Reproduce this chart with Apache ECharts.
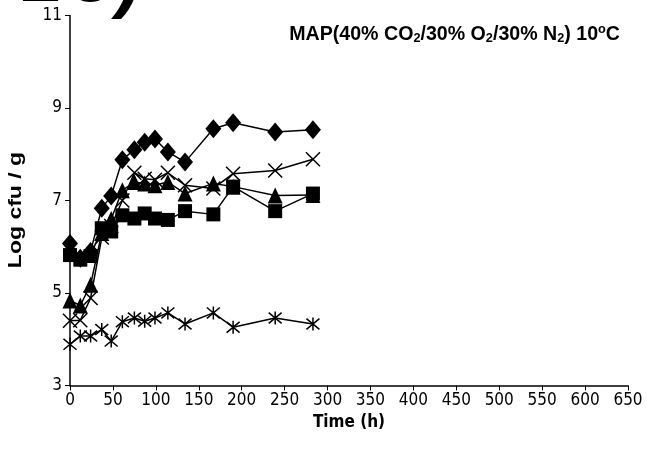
<!DOCTYPE html>
<html><head><meta charset="utf-8">
<script src="https://cdn.jsdelivr.net/npm/echarts@6/dist/echarts.min.js"></script>
<style>html,body{margin:0;padding:0;background:#fff}#c{width:652px;height:452px}</style>
</head><body><div id="c"></div>
<script>
var times = [0, 12, 24, 37, 48, 61, 75, 87, 99, 114, 134, 167, 190, 239, 283];
var diamondVals = [6.07, 5.75, 5.9, 6.83, 7.1, 7.88, 8.1, 8.26, 8.33, 8.05, 7.83, 8.55, 8.68, 8.48, 8.53];
var squareVals = [5.82, 5.72, 5.8, 6.4, 6.33, 6.68, 6.61, 6.72, 6.61, 6.58, 6.77, 6.7, 7.3, 6.77, 7.15];
var triangleVals = [4.84, 4.73, 5.18, 6.3, 6.6, 7.22, 7.4, 7.37, 7.33, 7.4, 7.15, 7.37, 7.3, 7.11, 7.12];
var crossVals = [4.4, 4.41, 4.89, 6.2, 6.45, 7.0, 7.6, 7.47, 7.45, 7.6, 7.33, 7.26, 7.58, 7.65, 7.89];
var starVals = [3.89, 4.07, 4.07, 4.21, 3.96, 4.38, 4.46, 4.39, 4.46, 4.57, 4.33, 4.57, 4.26, 4.46, 4.33];
var xTicks = [0, 50, 100, 150, 200, 250, 300, 350, 400, 450, 500, 550, 600, 650];
var yTicks = [3, 5, 7, 9, 11];

function pairs(v){ return times.map(function(t,i){ return [t, v[i]]; }); }
var FONT = 'Liberation Sans, Arial, sans-serif';
var NARROW = '"Liberation Sans Narrow", "Arial Narrow", "DejaVu Sans Condensed", "Liberation Sans", sans-serif';
var chart = echarts.init(document.getElementById('c'), null, {renderer:'canvas'});
function ser(name, vals, symbol, size, filled){
  return {
    name: name, type: 'line', data: pairs(vals), symbol: symbol, symbolSize: size,
    lineStyle: {color:'#000', width:1.5},
    itemStyle: filled ? {color:'#000', borderColor:'#000', borderWidth:0} : {color:'none', borderColor:'#000', borderWidth:1.5},
    animation:false, z: 3
  };
}
chart.setOption({
  animation:false,
  backgroundColor:'#fff',
  grid:{left:70, right:24, top:15.5, bottom:66.5, containLabel:false, outerBoundsMode:'none'},
  graphic:[
    {
      type:'text', x:24, y:-66, scaleX:0.85,
      style:{text:'2C)', font:'italic bold 86px Liberation Sans, Arial, sans-serif', fill:'#000'}
    },
    {
      type:'text', x:620, y:34, scaleX:0.98,
      style:{
        text:'{b|MAP(40% CO}{s|2}{b|/30% O}{s|2}{b|/30% N}{s|2}{b|) 10}{p|o}{b|C}',
        align:'right', verticalAlign:'middle',
        rich:{
          b:{fontFamily:FONT, fontWeight:'bold', fontSize:20, fill:'#000', color:'#000'},
          s:{fontFamily:FONT, fontWeight:'bold', fontSize:13, fill:'#000', color:'#000', verticalAlign:'bottom', padding:[8,0,0,0]},
          p:{fontFamily:FONT, fontWeight:'bold', fontSize:13, fill:'#000', color:'#000', verticalAlign:'top', padding:[0,0,9,0]}
        }
      }
    },
    {
      type:'text', x:16, y:210, rotation:Math.PI/2, scaleY:0.82,
      style:{text:'Log cfu / g', font:'bold 23px Liberation Sans, Arial, sans-serif', fill:'#000', align:'center', verticalAlign:'middle'}
    }
  ],
  xAxis:{
    type:'value', min:0, max:650, interval:50,
    name:'Time (h)', nameLocation:'middle', nameGap:25,
    nameTextStyle:{fontFamily:NARROW, fontWeight:'bold', fontSize:17, color:'#000'},
    axisLine:{lineStyle:{color:'#000', width:1.5}},
    axisTick:{show:true, inside:false, length:5, lineStyle:{color:'#000'}},
    axisLabel:{fontFamily:NARROW, fontSize:17, color:'#000', margin:7},
    splitLine:{show:false}
  },
  yAxis:{
    type:'value', min:3, max:11, interval:2,
    axisLine:{show:true, lineStyle:{color:'#000', width:1.5}},
    axisTick:{show:true, inside:false, length:5, lineStyle:{color:'#000'}},
    axisLabel:{fontFamily:NARROW, fontSize:17, color:'#000', margin:8},
    splitLine:{show:false}
  },
  series:[
    ser('diamond', diamondVals, 'diamond', [16,19], true),
    ser('square', squareVals, 'rect', 14, true),
    ser('triangle', triangleVals, 'triangle', [15,16], true),
    ser('cross', crossVals, 'path://M0,0L10,10M10,0L0,10', 14, false),
    ser('star', starVals, 'path://M0,0L10,10M10,0L0,10M5,-1L5,11', 13, false)
  ]
});
</script></body></html>
